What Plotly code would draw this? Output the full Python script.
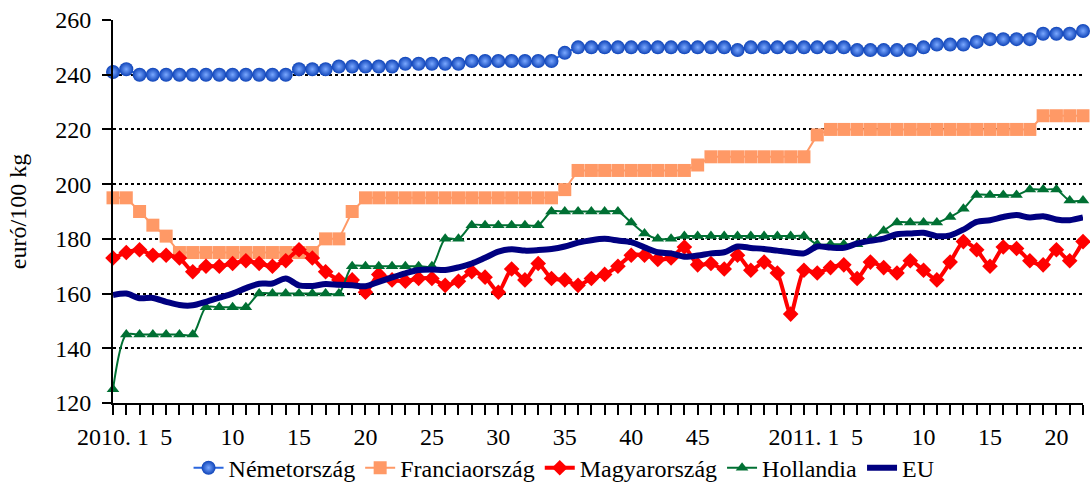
import plotly.graph_objects as go

# weeks: 2010 week 1-52, 2011 week 1-22
weeks_2010 = list(range(1, 53))
weeks_2011 = list(range(1, 23))
labeled_2010 = [1, 5, 10, 15, 20, 25, 30, 35, 40, 45]
labeled_2011 = [1, 5, 10, 15, 20]

nemetorszag = [241, 242, 240, 240, 240, 240, 240, 240, 240, 240, 240, 240, 240, 240,
               242, 242, 242, 243, 243, 243, 243, 243, 244, 244, 244, 244, 244,
               245, 245, 245, 245, 245, 245, 245, 248,
               250, 250, 250, 250, 250, 250, 250, 250, 250, 250, 250, 250, 249,
               250, 250, 250, 250, 250, 250, 250, 250, 249, 249, 249, 249, 249,
               250, 251, 251, 251, 252, 253, 253, 253, 253, 255, 255, 255, 256]

franciaorszag = [195, 195, 190, 185, 181, 175, 175, 175, 175, 175, 175, 175, 175, 175,
                 175, 175, 180, 180, 190, 195, 195, 195, 195, 195, 195, 195, 195, 195,
                 195, 195, 195, 195, 195, 195, 198, 205, 205, 205, 205, 205, 205, 205,
                 205, 205, 207, 210, 210, 210, 210, 210, 210, 210, 210, 218, 220, 220,
                 220, 220, 220, 220, 220, 220, 220, 220, 220, 220, 220, 220, 220, 220,
                 225, 225, 225, 225]

magyarorszag = [173, 175, 176, 174, 174, 173, 168, 170, 170, 171, 172, 171, 170, 172,
                176, 173, 168, 165, 165, 160.5, 167, 165, 164.5, 165.5, 165.5, 163, 164.5,
                168, 166, 160.5, 169, 165, 171, 165.5, 165, 163, 165.5, 167, 170,
                174, 174, 172.5, 173, 177, 170.5, 171, 169, 174, 168.5, 171.5, 167.5,
                152.5, 168.5, 167.5, 169.5, 170.5, 165.5, 171.5, 169.5, 167.5, 172, 168.5,
                165, 171.5, 179, 176, 170, 177, 176.5, 172, 170.5, 176, 172, 179]

hollandia = [125, 145, 145, 145, 145, 145, 145, 155, 155, 155, 155, 160, 160, 160,
             160, 160, 160, 160, 170, 170, 170, 170, 170, 170, 170, 180, 180,
             185, 185, 185, 185, 185, 185, 190, 190, 190, 190, 190, 190, 186, 182,
             180, 180, 181, 181, 181, 181, 181, 181, 181, 181, 181, 181, 178, 178,
             178, 178, 180, 183, 186, 186, 186, 186, 188, 191, 196, 196, 196, 196,
             198, 198, 198, 194, 194]

eu = [159.5, 160, 158.3, 158.4, 157, 155.8, 155.7, 157, 158.5, 160, 162, 163.6, 163.7,
      165.5, 163, 162.8, 163.5, 163.2, 163, 162.7, 164.3, 165.9, 167.4, 168.6, 168.8,
      168.6, 169.6, 171, 173.1, 175.3, 176.2, 175.7, 175.9, 176.3, 177.2, 178.6, 179.5,
      180, 179.4, 178.8, 176.9, 175.1, 174.7, 173.5, 173.9, 174.7, 175.1, 177.2, 176.7,
      176.3, 175.7, 175.1, 174.7, 177.2, 176.8, 176.7, 178.3, 179.3, 180.1, 181.7, 182,
      182.2, 181, 181.3, 183.4, 186.2, 186.8, 188, 188.7, 187.8, 188.3, 187.1, 186.8, 187.8]

x = list(range(len(weeks_2010) + len(weeks_2011)))

tickvals = [w - 1 for w in labeled_2010] + [len(weeks_2010) + w - 1 for w in labeled_2011]
ticktext = ["2010. 1"] + [str(w) for w in labeled_2010[1:]] + ["2011. 1"] + [str(w) for w in labeled_2011[1:]]

font = "Liberation Serif, DejaVu Serif, serif"

fig = go.Figure()

fig.add_trace(go.Scatter(x=x, y=nemetorszag, name="Németország", mode="lines+markers",
                         line=dict(color="#2A66DE", width=2),
                         marker=dict(symbol="circle", size=14, color="#0E43B8",
                                     gradient=dict(type="radial", color="#7AA8FF"),
                                     line=dict(width=0)),
                         cliponaxis=False))
fig.add_trace(go.Scatter(x=x, y=franciaorszag, name="Franciaország", mode="lines+markers",
                         line=dict(color="#FF9966", width=2),
                         marker=dict(symbol="square", size=13, color="#FF9966"),
                         cliponaxis=False))
fig.add_trace(go.Scatter(x=x, y=magyarorszag, name="Magyarország", mode="lines+markers",
                         line=dict(color="#FF0000", width=4, shape="spline", smoothing=0.6),
                         marker=dict(symbol="diamond", size=12, color="#FF0000"),
                         cliponaxis=False))
fig.add_trace(go.Scatter(x=x, y=hollandia, name="Hollandia", mode="lines+markers",
                         line=dict(color="#007033", width=2, shape="spline", smoothing=0.8),
                         marker=dict(symbol="triangle-up", size=11, color="#007033"),
                         cliponaxis=False))
fig.add_trace(go.Scatter(x=x, y=eu, name="EU", mode="lines",
                         line=dict(color="#000080", width=6, shape="spline", smoothing=0.8),
                         cliponaxis=False))

fig.update_layout(
    width=1090, height=489,
    margin=dict(l=113, r=7, t=20, b=86, autoexpand=False),
    paper_bgcolor="white", plot_bgcolor="white",
    font=dict(family=font, size=24, color="black"),
    legend=dict(orientation="h", x=0.465, xanchor="center", y=-0.17, yanchor="middle",
                font=dict(family=font, size=24), itemwidth=30, tracegroupgap=0),
    showlegend=True,
)

fig.update_xaxes(
    range=[0, len(x) - 1], tickmode="array", tickvals=tickvals, ticktext=ticktext,
    showgrid=False, zeroline=False, showline=True, linecolor="black", linewidth=2,
    ticks="outside", ticklen=10, tickwidth=2, tickcolor="black",
    minor=dict(dtick=1, tick0=0, ticks="outside", ticklen=10, tickwidth=2, tickcolor="black"),
    tickfont=dict(family=font, size=24), ticklabelstandoff=1, automargin=False,
)
fig.update_yaxes(
    range=[120, 260], dtick=20, tick0=120,
    showgrid=True, gridcolor="black", gridwidth=2, griddash="dot",
    zeroline=False, showline=True, linecolor="black", linewidth=2,
    ticks="outside", ticklen=9, tickwidth=2, tickcolor="black",
    tickfont=dict(family=font, size=24), ticklabelstandoff=6, automargin=False,
    title=dict(text="euró/100 kg", font=dict(family=font, size=24), standoff=22),
)

fig.write_html("out.html", config={"displayModeBar": False},
               post_script="document.body.style.margin='0';")
